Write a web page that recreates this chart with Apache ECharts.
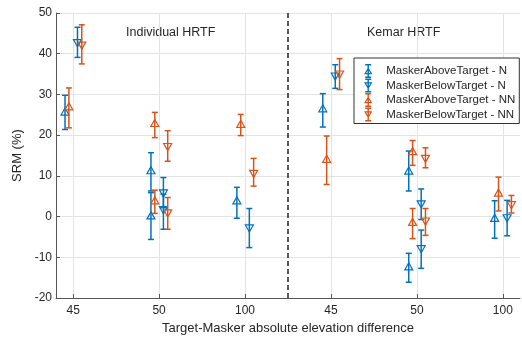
<!DOCTYPE html>
<html>
<head>
<meta charset="utf-8">
<script src="https://cdn.jsdelivr.net/npm/echarts@6/dist/echarts.min.js"></script>
<style>
  html, body { margin: 0; padding: 0; background: #fff; }
  #main { width: 522px; height: 340px; }
</style>
</head>
<body>
<div id="main"></div>
<script>
// x tick labels, one per group position (1..6)
const tickLabels = ['45', '50', '100', '45', '50', '100']
const tickPos = [1, 2, 3, 4, 5, 6]

// [group position, mean, lower, upper]
const aboveN = [
  [1, 25.6, 21.4, 29.8],
  [2, 11.2, 6.3, 15.7],
  [2, 0.1, -5.6, 5.9],
  [3, 3.8, -0.4, 7.2],
  [4, 26.4, 22.0, 30.2],
  [5, 11.1, 6.3, 16.1],
  [5, -12.4, -16.1, -9.0],
  [6, -0.5, -5.3, 3.9]
]
const belowN = [
  [1, 42.8, 39.1, 46.5],
  [2, 5.9, 2.2, 9.6],
  [2, 1.8, -3.1, 5.5],
  [3, -2.7, -7.6, 2.0],
  [4, 34.6, 31.5, 37.3],
  [5, 3.2, -0.7, 6.8],
  [5, -7.8, -12.7, -3.3],
  [6, -0.2, -4.7, 4.0]
]
const aboveNN = [
  [1, 26.9, 21.8, 31.6],
  [2, 22.8, 19.4, 25.6],
  [2, 3.8, 0.8, 6.5],
  [3, 22.6, 19.9, 25.1],
  [4, 14.0, 7.9, 19.8],
  [5, 15.9, 12.6, 18.7],
  [5, -1.5, -5.4, 2.0],
  [6, 5.7, 1.4, 9.7]
]
const belowNN = [
  [1, 42.2, 37.5, 47.1],
  [2, 17.3, 13.6, 21.1],
  [2, 1.0, -3.1, 4.7],
  [3, 10.7, 7.5, 14.3],
  [4, 35.1, 31.2, 38.8],
  [5, 14.4, 12.0, 16.9],
  [5, -1.0, -4.6, 2.0],
  [6, 3.0, 0.9, 5.2]
]

const blue = '#0072BD'
const orange = '#D95319'
const font = 'Liberation Sans, Arial, sans-serif'

// legend icons: error bar with open triangle
const iconUp = 'path://M2 0H8V1.4H2Z M2 12.6H8V14H2Z M4.3 0H5.7V14H4.3Z M5 3.2L9.2 10.2L0.8 10.2Z M5 5.6L2.9 9.1L7.1 9.1Z'
const iconDown = 'path://M2 0H8V1.4H2Z M2 12.6H8V14H2Z M4.3 0H5.7V14H4.3Z M0.8 3.8L9.2 3.8L5 10.8Z M2.9 4.9L5 8.4L7.1 4.9Z'

const errSeries = (name, data, color, offset, up) => ({
  type: 'custom',
  name: name,
  data: data,
  itemStyle: {color: color},
  encode: {x: 0, y: [1, 2, 3]},
  renderItem: (params, api) => {
    const x = api.value(0) + offset
    const p = api.coord([x, api.value(1)])
    const lo = api.coord([x, api.value(2)])
    const hi = api.coord([x, api.value(3)])
    const cw = 3
    const st = {stroke: color, lineWidth: 1.5, fill: null}
    const t = up
      ? [[p[0], p[1] - 4.4], [p[0] - 4, p[1] + 2.7], [p[0] + 4, p[1] + 2.7]]
      : [[p[0], p[1] + 4.4], [p[0] - 4, p[1] - 2.7], [p[0] + 4, p[1] - 2.7]]
    return {
      type: 'group',
      children: [
        {type: 'line', shape: {x1: p[0], y1: hi[1], x2: p[0], y2: lo[1]}, style: st},
        {type: 'line', shape: {x1: p[0] - cw, y1: hi[1], x2: p[0] + cw, y2: hi[1]}, style: st},
        {type: 'line', shape: {x1: p[0] - cw, y1: lo[1], x2: p[0] + cw, y2: lo[1]}, style: st},
        {type: 'polygon', shape: {points: t}, style: {stroke: color, lineWidth: 1.2, fill: 'rgba(0,0,0,0)'}}
      ]
    }
  }
})

const chart = echarts.init(document.getElementById('main'))
chart.setOption({
  animation: false,
  textStyle: {fontFamily: font},
  grid: {left: 56, right: 2, top: 13, bottom: 41},
  xAxis: {
    type: 'value',
    min: 0.8,
    max: 6.2,
    name: 'Target-Masker absolute elevation difference',
    nameLocation: 'middle',
    nameGap: 22,
    nameTextStyle: {fontSize: 13, color: '#262626', fontFamily: font},
    axisLine: {show: true, onZero: false, lineStyle: {color: '#555', width: 1}},
    axisTick: {show: true, inside: true, length: 4, customValues: tickPos, lineStyle: {color: '#555'}},
    axisLabel: {
      customValues: tickPos,
      formatter: v => tickLabels[Math.round(v) - 1],
      fontSize: 12, color: '#262626', margin: 7
    },
    splitLine: {show: true, lineStyle: {color: '#e3e3e3', width: 1}}
  },
  yAxis: {
    type: 'value',
    min: -20,
    max: 50,
    interval: 10,
    name: 'SRM (%)',
    nameLocation: 'middle',
    nameGap: 20,
    nameTextStyle: {fontSize: 13, color: '#262626', fontFamily: font},
    axisLine: {show: true, lineStyle: {color: '#555', width: 1}},
    axisTick: {show: true, inside: true, length: 4, lineStyle: {color: '#555'}},
    axisLabel: {fontSize: 12, color: '#262626', margin: 4},
    splitLine: {show: true, lineStyle: {color: '#e3e3e3', width: 1}}
  },
  legend: {
    orient: 'vertical',
    left: 354,
    top: 58,
    padding: [6, 4, 2, 10],
    itemGap: 0.5,
    itemWidth: 10,
    itemHeight: 14,
    backgroundColor: '#fff',
    borderColor: '#333',
    borderWidth: 1,
    borderRadius: 0,
    textStyle: {fontSize: 11.5, color: '#262626', fontFamily: font, padding: [0, 0, 0, 8]},
    itemStyle: {borderWidth: 0},
    data: [
      {name: 'MaskerAboveTarget - N', icon: iconUp},
      {name: 'MaskerBelowTarget - N', icon: iconDown},
      {name: 'MaskerAboveTarget - NN', icon: iconUp},
      {name: 'MaskerBelowTarget - NN', icon: iconDown}
    ]
  },
  graphic: [
    {type: 'text', left: 172 - 46, top: 26, style: {text: 'Individual HRTF', fontSize: 12.5, fill: '#262626', fontFamily: font}},
    {type: 'text', left: 404 - 37, top: 26, style: {text: 'Kemar HRTF', fontSize: 12.5, fill: '#262626', fontFamily: font}}
  ],
  series: [
    {
      type: 'line',
      name: 'divider',
      data: [[3.5, -20], [3.5, 50]],
      symbol: 'none',
      silent: true,
      lineStyle: {color: '#000', width: 1.3, type: [5, 3]},
      z: 1
    },
    errSeries('MaskerAboveTarget - N', aboveN, blue, -0.095, true),
    errSeries('MaskerBelowTarget - N', belowN, blue, 0.05, false),
    errSeries('MaskerAboveTarget - NN', aboveNN, orange, -0.05, true),
    errSeries('MaskerBelowTarget - NN', belowNN, orange, 0.1, false)
  ]
})
</script>
</body>
</html>
